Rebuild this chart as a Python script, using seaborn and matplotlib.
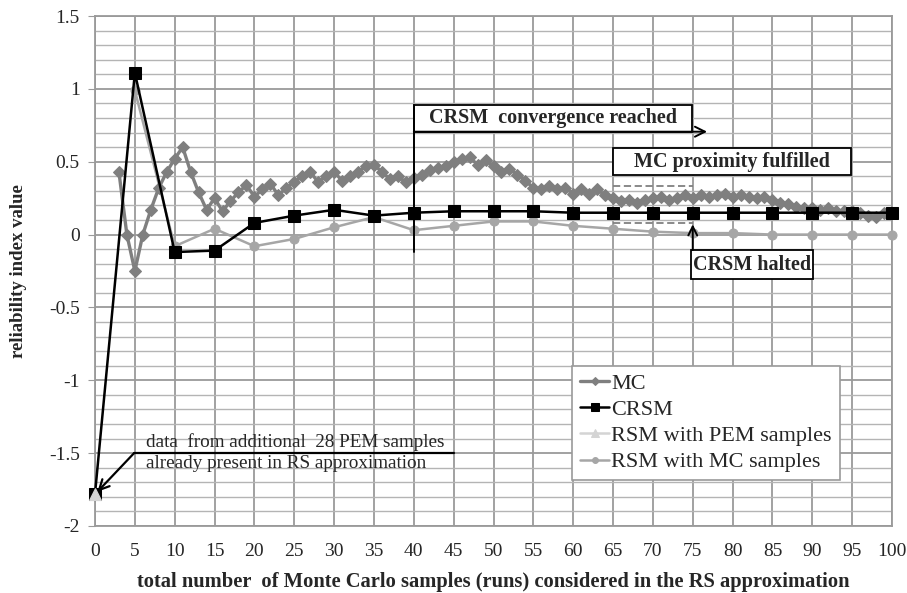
import numpy as np
import pandas as pd
import matplotlib
matplotlib.use("Agg")
import matplotlib.pyplot as plt
from matplotlib.patches import Rectangle
import seaborn as sns

# MC estimate at every run from 3 to 100
mc_x = list(range(3, 101))
mc_y = [0.43, 0.00, -0.25, 0.00, 0.17, 0.32, 0.43, 0.52, 0.60, 0.43,
        0.29, 0.17, 0.25, 0.16, 0.23, 0.29, 0.34, 0.26, 0.31, 0.35,
        0.27, 0.32, 0.36, 0.40, 0.43, 0.36, 0.40, 0.43, 0.37, 0.40,
        0.43, 0.47, 0.48, 0.43, 0.38, 0.40, 0.36, 0.39, 0.41, 0.44,
        0.46, 0.47, 0.50, 0.52, 0.53, 0.48, 0.51, 0.47, 0.43, 0.45,
        0.41, 0.37, 0.32, 0.31, 0.33, 0.31, 0.32, 0.28, 0.31, 0.28,
        0.31, 0.27, 0.25, 0.23, 0.24, 0.22, 0.24, 0.25, 0.26, 0.24,
        0.25, 0.27, 0.25, 0.27, 0.26, 0.27, 0.28, 0.26, 0.27, 0.26,
        0.25, 0.26, 0.24, 0.22, 0.21, 0.19, 0.18, 0.18, 0.17, 0.18,
        0.16, 0.16, 0.16, 0.15, 0.13, 0.12, 0.15, 0.15]

crsm_x = [0, 5, 10, 15, 20, 25, 30, 35, 40, 45, 50, 55, 60, 65, 70, 75,
          80, 85, 90, 95, 100]
crsm_y = [-1.78, 1.11, -0.12, -0.11, 0.08, 0.13, 0.17, 0.13, 0.15, 0.16,
          0.16, 0.16, 0.15, 0.15, 0.15, 0.15, 0.15, 0.15, 0.15, 0.15, 0.15]

pem_x = [0]
pem_y = [-1.78]

rsm_x = [5, 10, 15, 20, 25, 30, 35, 40, 45, 50, 55, 60, 65, 70, 75, 80,
         85, 90, 95, 100]
rsm_y = [0.99, -0.08, 0.04, -0.08, -0.03, 0.05, 0.12, 0.03, 0.06, 0.09,
         0.09, 0.06, 0.04, 0.02, 0.01, 0.01, 0.00, 0.00, 0.00, 0.00]

x_ticks = list(range(0, 101, 5))
y_ticks = [-2, -1.5, -1, -0.5, 0, 0.5, 1, 1.5]
y_tick_labels = ["-2", "-1.5", "-1", "-0.5", "0", "0.5", "1", "1.5"]

sns.set_style("white")
plt.rcParams["font.family"] = ["Liberation Serif", "DejaVu Serif"]

fig = plt.figure(figsize=(9.07, 5.93), dpi=100)
ax = fig.add_axes([95 / 907, 1 - 526 / 593, 797 / 907, 510 / 593])

grid_c = "#9a9a9a"
ax.set_xlim(0, 100)
ax.set_ylim(-2, 1.5)
ax.set_xticks(x_ticks)
ax.set_yticks(y_ticks)
ax.set_yticklabels(y_tick_labels)
ax.set_yticks(np.arange(-2, 1.51, 0.1), minor=True)
ax.grid(True, which="major", color=grid_c, lw=1.3, zorder=0)
ax.grid(True, which="minor", axis="y", color="#b4b4b4", lw=1.0, zorder=0)
ax.set_axisbelow(True)
for s in ax.spines.values():
    s.set_color(grid_c)
    s.set_linewidth(1.3)
ax.tick_params(axis="y", which="major", direction="out", length=5,
               color=grid_c, labelsize=14, pad=6, left=True)
ax.tick_params(axis="y", which="minor", length=0)
ax.tick_params(axis="x", length=0, labelsize=14, pad=12)

df_mc = pd.DataFrame({"x": mc_x, "y": mc_y})
df_crsm = pd.DataFrame({"x": crsm_x, "y": crsm_y})
df_pem = pd.DataFrame({"x": pem_x, "y": pem_y})
df_rsm = pd.DataFrame({"x": rsm_x, "y": rsm_y})

sns.lineplot(data=df_rsm, x="x", y="y", ax=ax, color="#a6a6a6", lw=1.8,
             marker="o", markersize=6.5, markeredgecolor="#a6a6a6",
             label="RSM with MC samples", zorder=3, clip_on=False)
sns.lineplot(data=df_mc, x="x", y="y", ax=ax, color="#7f7f7f", lw=2.4,
             marker="D", markersize=6, markeredgecolor="#7f7f7f",
             label="MC", zorder=4, clip_on=False)
sns.lineplot(data=df_crsm, x="x", y="y", ax=ax, color="black", lw=1.8,
             marker="s", markersize=8, markeredgecolor="black",
             label="CRSM", zorder=5, clip_on=False)
sns.lineplot(data=df_pem, x="x", y="y", ax=ax, color="#d4d4d4", lw=1.8,
             marker="^", markersize=9, markeredgecolor="#d4d4d4",
             label="RSM with PEM samples", zorder=6, clip_on=False)

handles, labels = ax.get_legend_handles_labels()
order = ["MC", "CRSM", "RSM with PEM samples", "RSM with MC samples"]
hmap = dict(zip(labels, handles))
leg = ax.legend([hmap[k] for k in order], order, loc="lower left",
                bbox_to_anchor=(0.599, 0.09), borderaxespad=0, fontsize=16,
                frameon=True, fancybox=False, framealpha=1, edgecolor=grid_c,
                handlelength=1.3, handletextpad=0.1, borderpad=0.35,
                labelspacing=0.25, markerscale=0.65)
leg.get_frame().set_linewidth(1.2)
leg.set_zorder(10)

# annotation boxes
box_kw = dict(fc="white", ec="black", lw=1.3, zorder=8)
ax.add_patch(Rectangle((40, 0.706), 34.9, 0.183, **box_kw))
ax.text(57.45, 0.80, "CRSM  convergence reached", ha="center", va="center",
        fontsize=14.5, fontweight="bold", zorder=9)
ax.annotate("", xy=(76.8, 0.706), xytext=(40, 0.706),
            arrowprops=dict(arrowstyle="->", lw=1.4, color="black",
                            shrinkA=0, shrinkB=0, mutation_scale=18),
            zorder=9)
ax.plot([40, 40], [0.889, -0.12], color="black", lw=1.4, zorder=8)

ax.add_patch(Rectangle((65, 0.409), 29.8, 0.183, **box_kw))
ax.text(79.9, 0.50, "MC proximity fulfilled", ha="center", va="center",
        fontsize=14.5, fontweight="bold", zorder=9)
ax.plot([65, 75], [0.333, 0.333], color="#808080", lw=1.3, ls=(0, (4, 2)),
        zorder=7)
ax.plot([65, 75], [0.082, 0.082], color="#808080", lw=1.3, ls=(0, (4, 2)),
        zorder=7)

ax.add_patch(Rectangle((74.8, -0.307), 15.3, 0.201, **box_kw))
ax.text(82.45, -0.206, "CRSM halted", ha="center", va="center",
        fontsize=14.5, fontweight="bold", zorder=9)
ax.annotate("", xy=(75, 0.07), xytext=(75, -0.106),
            arrowprops=dict(arrowstyle="->", lw=1.4, color="black",
                            shrinkA=0, shrinkB=0, mutation_scale=16),
            zorder=9)

ax.plot([4.9, 45.1], [-1.5, -1.5], color="black", lw=1.6, zorder=7)
ax.annotate("", xy=(0.3, -1.765), xytext=(4.9, -1.5),
            arrowprops=dict(arrowstyle="->", lw=1.6, color="black",
                            shrinkA=0, shrinkB=0, mutation_scale=18),
            zorder=9)
ax.text(6.4, -1.422, "data  from additional  28 PEM samples", ha="left",
        va="center", fontsize=13.8, zorder=9)
ax.text(6.4, -1.568, "already present in RS approximation", ha="left",
        va="center", fontsize=13.8, zorder=9)

ax.set_xlabel("total number  of Monte Carlo samples (runs) considered in the RS approximation",
              fontsize=14.8, fontweight="bold", labelpad=9)
ax.set_ylabel("reliability index value", fontsize=13.5, fontweight="bold",
              labelpad=16)

fig.savefig("out.png", dpi=100)
